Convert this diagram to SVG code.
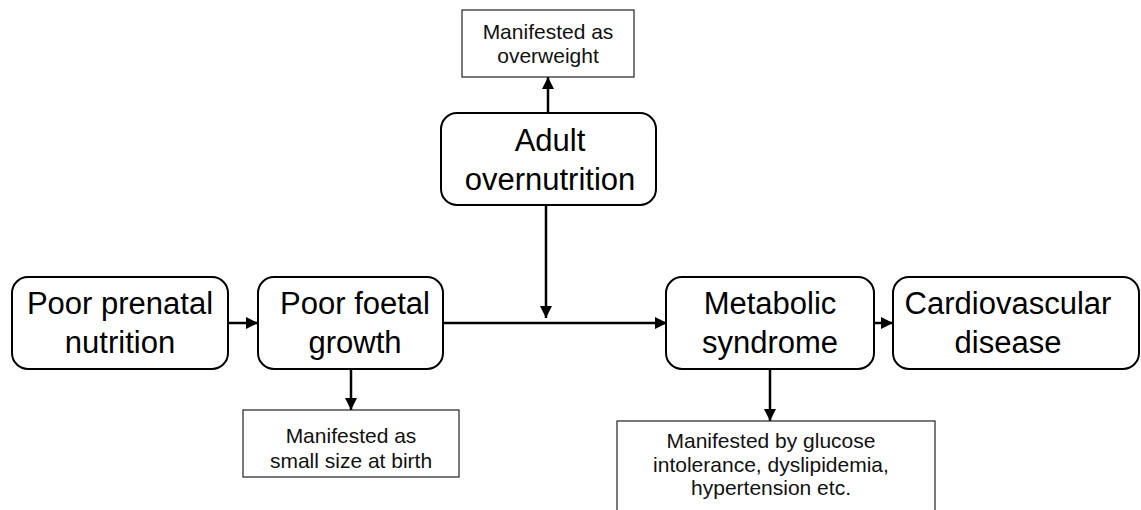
<svg xmlns="http://www.w3.org/2000/svg" width="1141" height="510" viewBox="0 0 1141 510">
<style>
.node{fill:#fff;stroke:#000;stroke-width:2}
.note{fill:#fff;stroke:#222;stroke-width:1.2}
.big{font-family:"Liberation Sans",Arial,sans-serif;font-size:31px;fill:#000;text-anchor:middle}
.small{font-family:"Liberation Sans",Arial,sans-serif;font-size:21px;fill:#111;text-anchor:middle}
.conn{stroke:#000;stroke-width:2.5;fill:none;marker-end:url(#arr)}
</style>
<defs>
<marker id="arr" markerUnits="userSpaceOnUse" markerWidth="12" markerHeight="12" viewBox="0 0 12 12" refX="12" refY="6" orient="auto">
<path d="M0,0 L12,6 L0,12 Z" fill="#000"/>
</marker>
</defs>
<rect width="1141" height="510" fill="#fff"/>
<g id="connectors">
<line class="conn" x1="228" y1="323" x2="258" y2="323"/>
<line class="conn" x1="443" y1="323" x2="667" y2="323"/>
<line class="conn" x1="874" y1="323" x2="893" y2="323"/>
<line class="conn" x1="546" y1="205" x2="546" y2="318"/>
<line class="conn" x1="548" y1="113" x2="548" y2="77"/>
<line class="conn" x1="351" y1="369" x2="351" y2="410"/>
<line class="conn" x1="770" y1="369" x2="770" y2="421"/>
</g>
<g id="poor-prenatal">
<rect class="node" x="12" y="277" width="216" height="92" rx="16"/>
<text class="big" x="120" y="314">Poor prenatal</text>
<text class="big" x="120" y="353">nutrition</text>
</g>
<g id="poor-foetal">
<rect class="node" x="258" y="277" width="185" height="92" rx="16"/>
<text class="big" x="355" y="314">Poor foetal</text>
<text class="big" x="355" y="353">growth</text>
</g>
<g id="adult-overnutrition">
<rect class="node" x="441" y="113" width="215" height="92" rx="16"/>
<text class="big" x="550" y="151">Adult</text>
<text class="big" x="550" y="190">overnutrition</text>
</g>
<g id="metabolic">
<rect class="node" x="666" y="277" width="208" height="92" rx="16"/>
<text class="big" x="770" y="314">Metabolic</text>
<text class="big" x="770" y="353">syndrome</text>
</g>
<g id="cardio">
<rect class="node" x="893" y="277" width="246" height="92" rx="16"/>
<text class="big" x="1008" y="314">Cardiovascular</text>
<text class="big" x="1008" y="353">disease</text>
</g>
<g id="note-overweight">
<rect class="note" x="462" y="10" width="172" height="67"/>
<text class="small" x="548" y="39">Manifested as</text>
<text class="small" x="548" y="63">overweight</text>
</g>
<g id="note-small-size">
<rect class="note" x="243" y="410" width="216" height="67"/>
<text class="small" x="351" y="443">Manifested as</text>
<text class="small" x="351" y="468">small size at birth</text>
</g>
<g id="note-glucose">
<rect class="note" x="617" y="421" width="318" height="100"/>
<text class="small" x="771" y="448">Manifested by glucose</text>
<text class="small" x="771" y="472">intolerance, dyslipidemia,</text>
<text class="small" x="771" y="495">hypertension etc.</text>
</g>
</svg>
